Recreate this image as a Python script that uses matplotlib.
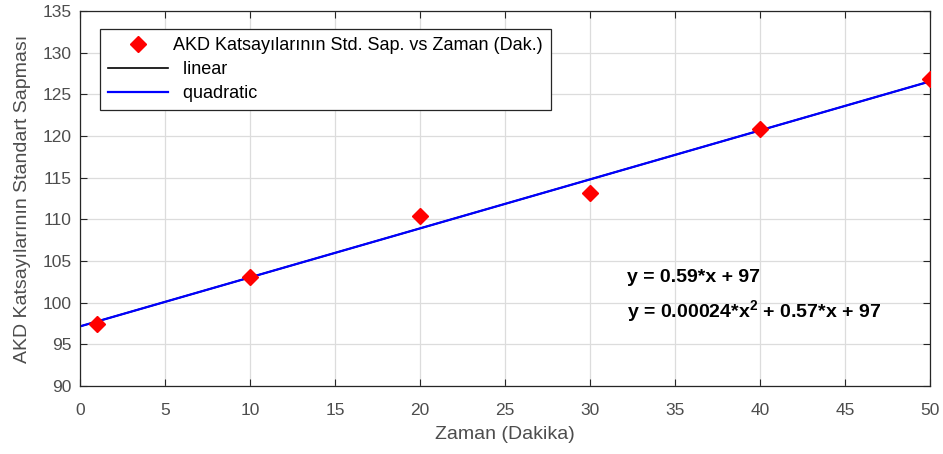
import numpy as np
import matplotlib
matplotlib.use("Agg")
import matplotlib.pyplot as plt

# measured standard deviation vs time
zaman = [1, 10, 20, 30, 40, 50]
std_sap = [97.4, 103.1, 110.4, 113.2, 120.8, 126.8]

x_ticks = list(range(0, 51, 5))
y_ticks = list(range(90, 136, 5))

eq_linear = "y = 0.59*x + 97"
eq_quad = "y = 0.00024*x$^{2}$ + 0.57*x + 97"

plt.rcParams['font.family'] = ['Liberation Sans', 'DejaVu Sans']
plt.rcParams['mathtext.fontset'] = 'custom'
plt.rcParams['mathtext.rm'] = 'Liberation Sans:bold'

dark = '#262626'
gray = '#4d4d4d'

fig = plt.figure(figsize=(9.43, 4.54), dpi=100)
ax = fig.add_axes([80 / 943, 1 - 386 / 454, 850 / 943, 375 / 454])

# fits
p1 = np.polyfit(zaman, std_sap, 1)
p2 = np.polyfit(zaman, std_sap, 2)
xx = np.linspace(0, 50, 200)

ax.plot(zaman, std_sap, 'D', color='red', markersize=8, zorder=5,
        label='AKD Katsayılarının Std. Sap. vs Zaman (Dak.)')
ax.plot(xx, np.polyval(p1, xx), color='black', lw=1.2, label='  linear')
ax.plot(xx, np.polyval(p2, xx), color='blue', lw=1.6, label='  quadratic')

ax.set_xlim(0, 50)
ax.set_ylim(90, 135)
ax.set_xticks(x_ticks)
ax.set_yticks(y_ticks)
ax.grid(True, color='#dcdcdc', lw=0.9)
ax.set_axisbelow(True)
ax.tick_params(direction='in', top=True, right=True, colors=dark,
               labelcolor=gray, labelsize=12.5, length=5, width=0.8)
ax.tick_params(axis='x', pad=12)
ax.tick_params(axis='y', pad=6)
for s in ax.spines.values():
    s.set_color(dark)
    s.set_linewidth(0.9)

ax.set_xlabel('Zaman (Dakika)', fontsize=14, color=gray, labelpad=6)
ax.set_ylabel('AKD Katsayılarının Standart Sapması', fontsize=14, color=gray,
              labelpad=8)

ax.text(32.2, 103.0, eq_linear, fontsize=14, fontweight='bold', va='center')
ax.text(32.2, 98.9, eq_quad, fontsize=14, fontweight='bold', va='center')

leg = ax.legend(loc='upper left', bbox_to_anchor=(20 / 850, 1 - 18 / 375),
                borderaxespad=0, fontsize=13, fancybox=False, framealpha=1,
                edgecolor=dark, borderpad=0.45, handlelength=3.3,
                handletextpad=0.3, labelspacing=0.38)
leg.get_frame().set_linewidth(0.9)

fig.savefig('out.png', dpi=100)
